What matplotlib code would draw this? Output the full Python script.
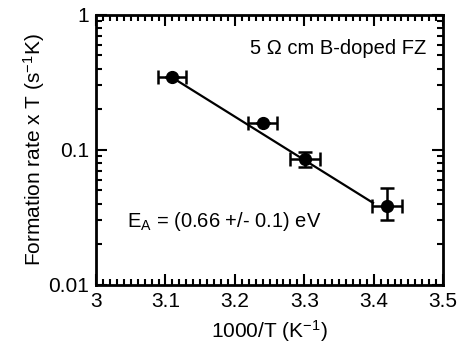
import numpy as np
import matplotlib
matplotlib.use("Agg")
import matplotlib.pyplot as plt
from matplotlib.ticker import FixedLocator, MultipleLocator, LogLocator, NullFormatter

plt.rcParams["font.family"] = ["Liberation Sans", "DejaVu Sans"]
plt.rcParams["mathtext.fontset"] = "custom"
plt.rcParams["mathtext.rm"] = "Liberation Sans"
plt.rcParams["mathtext.it"] = "Liberation Sans:italic"

# data
inv_t = [3.109, 3.240, 3.301, 3.419]
rate_t = [0.346, 0.158, 0.0853, 0.0385]
rate_err_lo = [0.0, 0.0, 0.0101, 0.0082]
rate_err_hi = [0.0, 0.0, 0.0117, 0.0135]
inv_t_err = [0.020, 0.021, 0.021, 0.022]

# fitted line (ends)
fit_x = [3.109, 3.399]
fit_y = [0.345, 0.0405]

x_ticks = [3, 3.1, 3.2, 3.3, 3.4, 3.5]
x_tick_labels = ["3", "3.1", "3.2", "3.3", "3.4", "3.5"]
y_ticks = [0.01, 0.1, 1]
y_tick_labels = ["0.01", "0.1", "1"]

fig = plt.figure(figsize=(4.64, 3.53), dpi=100)
ax = fig.add_axes([0.207, 0.193, 0.748, 0.765])

ax.plot(fit_x, fit_y, color="black", linewidth=1.6, zorder=2)
ax.errorbar(inv_t, rate_t, xerr=inv_t_err, yerr=[rate_err_lo, rate_err_hi],
            fmt="o", color="black", markersize=8.5, elinewidth=1.8,
            capsize=5, capthick=1.8, zorder=3)

ax.set_yscale("log")
ax.set_xlim(3.0, 3.5)
ax.set_ylim(0.01, 1)

ax.xaxis.set_major_locator(FixedLocator(x_ticks))
ax.set_xticklabels(x_tick_labels)
ax.xaxis.set_minor_locator(MultipleLocator(0.01))
ax.yaxis.set_major_locator(FixedLocator(y_ticks))
ax.set_yticklabels(y_tick_labels)
ax.yaxis.set_minor_locator(LogLocator(base=10, subs=np.arange(2, 10)))
ax.yaxis.set_minor_formatter(NullFormatter())

ax.tick_params(which="both", direction="in", top=True, right=True,
               width=1.5, labelsize=15)
ax.tick_params(which="major", length=8, pad=5)
ax.tick_params(which="minor", length=4)
for s in ax.spines.values():
    s.set_linewidth(2)

ax.set_xlabel("1000/T (K$^{\\mathregular{-1}}$)", fontsize=15, labelpad=5)
ax.set_ylabel("Formation rate x T (s$^{\\mathregular{-1}}$K)", fontsize=15,
              labelpad=1)

ax.text(0.95, 0.875, "5 \u03a9 cm B-doped FZ", transform=ax.transAxes,
        ha="right", va="center", fontsize=14.5)
ax.text(0.09, 0.235, "E$_{\\mathregular{A}}$ = (0.66 +/- 0.1) eV",
        transform=ax.transAxes, ha="left", va="center", fontsize=14.5)

fig.savefig("out.png", dpi=100)
